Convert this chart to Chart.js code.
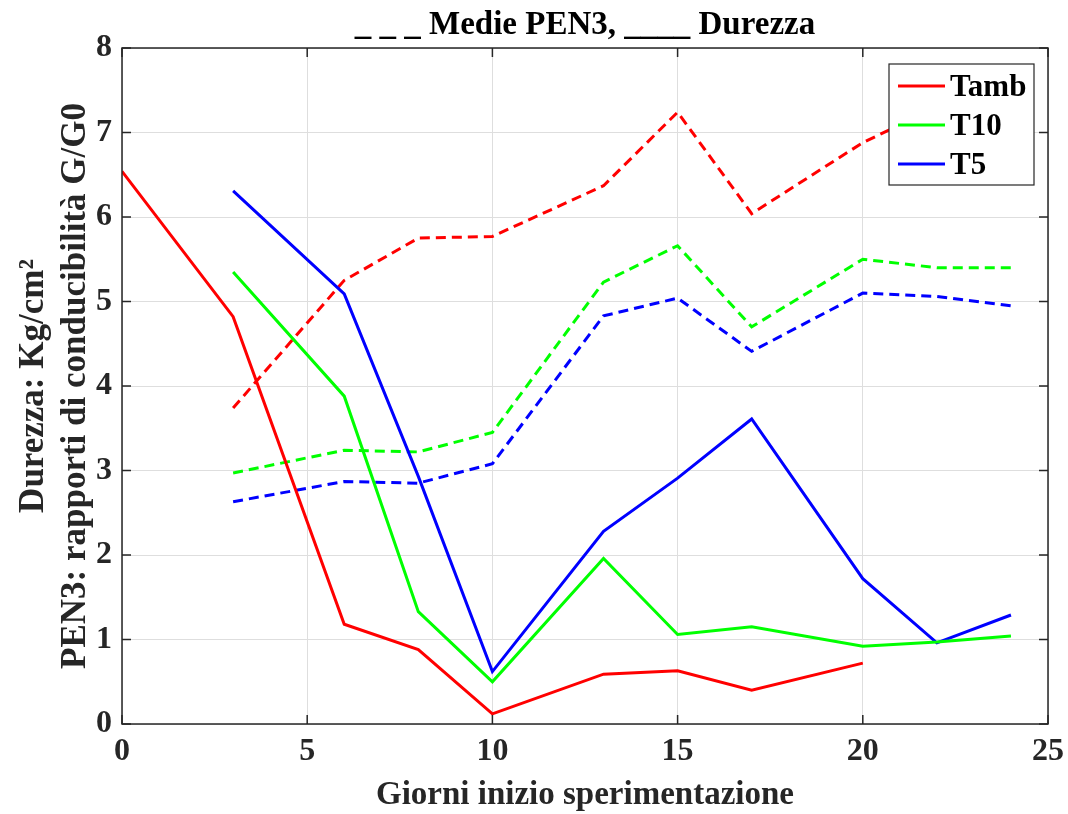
<!DOCTYPE html>
<html>
<head>
<meta charset="utf-8">
<script src="https://cdn.jsdelivr.net/npm/chart.js@4/dist/chart.umd.min.js"></script>
<style>
  html, body { margin: 0; padding: 0; background: #fff; }
  #wrap { width: 1068px; height: 814px; position: relative; }
</style>
</head>
<body>
<div id="wrap"><canvas id="c" width="1068" height="814"></canvas></div>
<script>
// ---- data ----
const days = [0, 3, 6, 8, 10, 13, 15, 17, 20, 22, 24];
const seriesNames = ['Tamb', 'T10', 'T5'];
// Durezza (solid lines)
const durezzaTamb = [6.54, 4.82, 1.18, 0.88, 0.12, 0.59, 0.63, 0.40, 0.72, null, null];
const durezzaT10  = [null, 5.35, 3.88, 1.33, 0.50, 1.96, 1.06, 1.15, 0.92, 0.97, 1.04];
const durezzaT5   = [null, 6.31, 5.09, 2.93, 0.62, 2.28, 2.91, 3.61, 1.72, 0.96, 1.29];
// Medie PEN3 (dashed lines)
const pen3Tamb = [null, 3.74, 5.25, 5.75, 5.77, 6.37, 7.24, 6.04, 6.88, 7.30, 7.35];
const pen3T10  = [null, 2.97, 3.24, 3.22, 3.45, 5.23, 5.66, 4.70, 5.50, 5.40, 5.40];
const pen3T5   = [null, 2.63, 2.87, 2.85, 3.08, 4.83, 5.04, 4.41, 5.10, 5.06, 4.95];
const xTicks = [0, 5, 10, 15, 20, 25];
const yTicks = [0, 1, 2, 3, 4, 5, 6, 7, 8];
const colors = ['#ff0000', '#00ff00', '#0000ff'];

const FONT = 'Liberation Serif';

function pts(arr) {
  const out = [];
  arr.forEach((v, i) => { if (v !== null) out.push({ x: days[i], y: v }); });
  return out;
}

const solid = [durezzaTamb, durezzaT10, durezzaT5];
const dashed = [pen3Tamb, pen3T10, pen3T5];
const datasets = [];
solid.forEach((arr, i) => datasets.push({
  label: seriesNames[i], data: pts(arr), borderColor: colors[i], borderWidth: 3,
  pointRadius: 0, fill: false, tension: 0
}));
dashed.forEach((arr, i) => datasets.push({
  label: seriesNames[i] + ' PEN3', data: pts(arr), borderColor: colors[i], borderWidth: 3,
  borderDash: [10, 6], pointRadius: 0, fill: false, tension: 0
}));

const frameTicks = {
  id: 'frameTicks',
  afterDatasetsDraw(chart) {
    const { ctx, chartArea: a, scales: { x, y } } = chart;
    ctx.save();
    ctx.strokeStyle = '#262626';
    ctx.lineWidth = 1.5;
    ctx.strokeRect(a.left, a.top, a.right - a.left, a.bottom - a.top);
    const L = 9;
    ctx.beginPath();
    xTicks.forEach(v => {
      const px = x.getPixelForValue(v);
      ctx.moveTo(px, a.bottom); ctx.lineTo(px, a.bottom - L);
      ctx.moveTo(px, a.top); ctx.lineTo(px, a.top + L);
    });
    yTicks.forEach(v => {
      const py = y.getPixelForValue(v);
      ctx.moveTo(a.left, py); ctx.lineTo(a.left + L, py);
      ctx.moveTo(a.right, py); ctx.lineTo(a.right - L, py);
    });
    ctx.stroke();
    ctx.restore();
  },
  afterDraw(chart) {
    const { ctx } = chart;
    // legend box inside plot (top-right)
    const bx = 889, by = 64, bw = 145, bh = 121;
    ctx.save();
    ctx.fillStyle = '#ffffff';
    ctx.fillRect(bx, by, bw, bh);
    ctx.strokeStyle = '#262626';
    ctx.lineWidth = 1.2;
    ctx.strokeRect(bx, by, bw, bh);
    ctx.font = 'bold 31px ' + FONT;
    ctx.textBaseline = 'middle';
    ctx.fillStyle = '#000';
    for (let i = 0; i < 3; i++) {
      const ds = chart.data.datasets[i];
      const cy = 86 + i * 39;
      ctx.strokeStyle = ds.borderColor;
      ctx.lineWidth = 3;
      ctx.beginPath();
      ctx.moveTo(898, cy); ctx.lineTo(945, cy);
      ctx.stroke();
      ctx.fillText(ds.label, 950, cy + 2);
    }
    ctx.restore();
  }
};

new Chart(document.getElementById('c'), {
  type: 'line',
  data: { datasets },
  options: {
    responsive: false,
    animation: false,
    layout: { padding: { left: 0, right: 20, top: 0, bottom: 0 } },
    plugins: {
      legend: { display: false },
      tooltip: { enabled: false },
      title: {
        display: true,
        fullSize: false,
        text: '_ _ _ Medie PEN3, ____ Durezza',
        color: '#000',
        font: { family: FONT, size: 33, weight: 'bold', lineHeight: 1.2 },
        padding: { top: 6, bottom: 2.4 }
      }
    },
    scales: {
      x: {
        type: 'linear', min: 0, max: 25,
        afterBuildTicks(s) { s.ticks = xTicks.map(v => ({ value: v })); },
        afterFit(s) { s.height = 90; s.paddingLeft = 0; s.paddingRight = 0; },
        grid: { color: '#dedede', lineWidth: 1, drawTicks: false },
        border: { display: false },
        ticks: { color: '#262626', padding: 9, maxRotation: 0,
          font: { family: FONT, size: 32, weight: 'bold' } },
        title: { display: true, text: 'Giorni inizio sperimentazione', color: '#262626',
          font: { family: FONT, size: 33, weight: 'bold', lineHeight: 1.15 },
          padding: { top: 0, bottom: 0 } }
      },
      y: {
        type: 'linear', min: 0, max: 8,
        afterBuildTicks(s) { s.ticks = yTicks.map(v => ({ value: v })); },
        afterFit(s) { s.width = 122; s.paddingTop = 0; s.paddingBottom = 0; },
        grid: { color: '#dedede', lineWidth: 1, drawTicks: false },
        border: { display: false },
        ticks: { color: '#262626', padding: 10,
          font: { family: FONT, size: 32, weight: 'bold' } },
        title: { display: true, text: ['Durezza: Kg/cm²', 'PEN3: rapporti di conducibilità G/G0'], color: '#262626',
          font: { family: FONT, size: 35, weight: 'bold', lineHeight: 1.2 },
          padding: { top: 13, bottom: 0 } }
      }
    }
  },
  plugins: [frameTicks]
});
</script>
</body>
</html>
